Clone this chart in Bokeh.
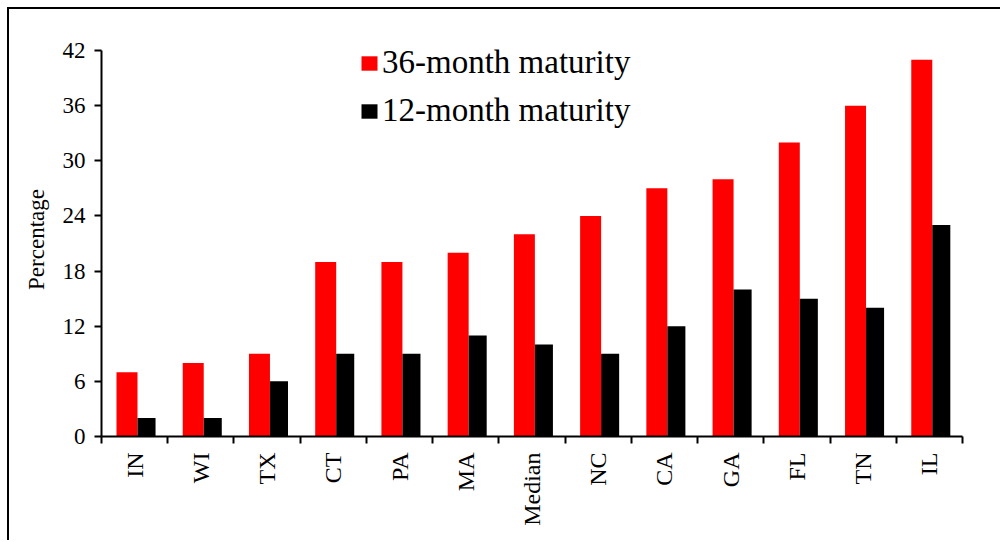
from bokeh.plotting import figure
from bokeh.models import FixedTicker, Legend, LegendItem, Range1d
from bokeh.embed import file_html
from bokeh.resources import INLINE
import numpy as np

states = ["IN", "WI", "TX", "CT", "PA", "MA", "Median", "NC", "CA", "GA", "FL", "TN", "IL"]
m36 = [7, 8, 9, 19, 19, 20, 22, 24, 27, 28, 32, 36, 41]
m12 = [2, 2, 6, 9, 9, 11, 10, 9, 12, 16, 15, 14, 23]
y_ticks = [0, 6, 12, 18, 24, 30, 36, 42]

FONT = "Liberation Serif"

idx = np.arange(len(states)) + 0.5
x_red = idx - 0.115
x_blk = idx + 0.18

# frame spans screen y 42..436; value 42 sits at y=50
y_top = 42 * 394 / 386

p = figure(width=993, height=533, output_backend="svg", toolbar_location=None,
           x_range=Range1d(0, len(states)), y_range=Range1d(0, y_top),
           min_border_left=92, min_border_right=40, min_border_top=33, min_border_bottom=106,
           margin=(7, 0, 0, 7),
           styles={"border-top": "2px solid black", "border-left": "2px solid black"})
p.outline_line_color = None
p.xgrid.visible = False
p.ygrid.visible = False
p.background_fill_color = "white"
p.border_fill_color = "white"

r_red = p.vbar(x=x_red, top=m36, width=0.317, bottom=0, fill_color="#ff0000", line_color=None)
r_blk = p.vbar(x=x_blk, top=m12, width=0.272, bottom=0, fill_color="#000000", line_color=None)

# x axis: labels at centers, tick marks at category boundaries
xa = p.xaxis[0]
xa.ticker = FixedTicker(ticks=list(idx), minor_ticks=list(range(len(states) + 1)))
xa.major_label_overrides = {float(v): s for v, s in zip(idx, states)}
xa.major_label_orientation = np.pi / 2
xa.major_tick_in = 0
xa.major_tick_out = 0
xa.minor_tick_in = 0
xa.minor_tick_out = 7
xa.minor_tick_line_width = 2
xa.minor_tick_line_color = "black"
xa.axis_line_width = 2
xa.axis_line_color = "black"
xa.major_label_standoff = 9
xa.major_label_text_font = FONT
xa.major_label_text_font_size = "24px"
xa.major_label_text_color = "black"

ya = p.yaxis[0]
ya.ticker = FixedTicker(ticks=y_ticks)
ya.bounds = (0, 42)
ya.minor_tick_line_color = None
ya.major_tick_in = 0
ya.major_tick_out = 7
ya.major_tick_line_width = 2
ya.major_tick_line_color = "black"
ya.axis_line_width = 2
ya.axis_line_color = "black"
ya.major_label_standoff = 9
ya.major_label_text_font = FONT
ya.major_label_text_font_size = "23px"
ya.major_label_text_color = "black"
ya.axis_label = "Percentage"
ya.axis_label_text_font = FONT
ya.axis_label_text_font_size = "23px"
ya.axis_label_text_font_style = "normal"
ya.axis_label_text_color = "black"
ya.axis_label_standoff = 11

legend = Legend(items=[LegendItem(label="36-month maturity", renderers=[r_red]),
                       LegendItem(label="12-month maturity", renderers=[r_blk])],
                location=(258, 307), orientation="vertical")
legend.border_line_color = None
legend.background_fill_alpha = 0
legend.padding = 0
legend.margin = 0
legend.spacing = 11
legend.glyph_width = 20
legend.glyph_height = 18
legend.label_height = 37
legend.label_standoff = 3
legend.label_text_font = FONT
legend.label_text_font_size = "33px"
legend.label_text_color = "black"
p.add_layout(legend, "center")

open("out.html", "w").write(file_html(p, INLINE))
